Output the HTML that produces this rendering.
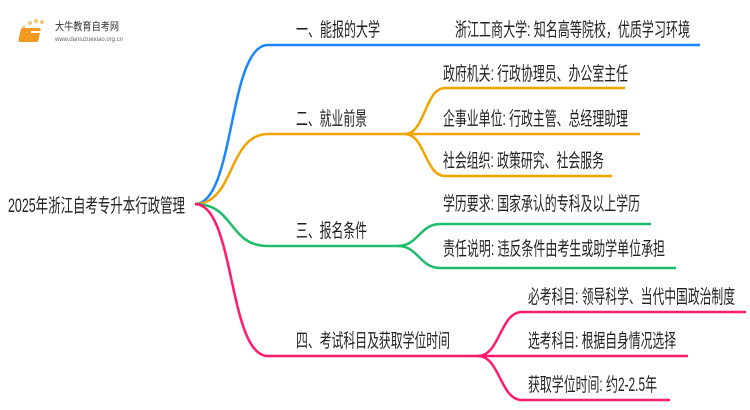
<!DOCTYPE html>
<html><head><meta charset="utf-8"><style>
html,body{margin:0;padding:0;background:#fff;width:750px;height:410px;overflow:hidden}
svg text{font-family:"Liberation Sans","Noto Sans CJK SC",sans-serif;fill:#222}
</style></head><body>
<svg width="750" height="410" viewBox="0 0 750 410" xmlns="http://www.w3.org/2000/svg">
<g>
<circle cx="30" cy="23" r="2" fill="#f7c56a"/><circle cx="36" cy="21" r="2" fill="#f7c56a"/><circle cx="42" cy="22" r="2" fill="#f7c56a"/><circle cx="24" cy="27" r="1.8" fill="#f7d48a"/><circle cx="22" cy="33" r="1.5" fill="#f7d48a"/>
<rect x="27" y="28" width="20" height="14" rx="2" fill="#f29a1f" transform="skewX(-12)"/>
<rect x="31" y="31" width="12" height="2" fill="#fff"/>
<text x="55" y="30" font-size="11" textLength="64" lengthAdjust="spacingAndGlyphs" style="fill:#333">大牛教育自考网</text>
<text x="55" y="41" font-size="6" textLength="68" lengthAdjust="spacingAndGlyphs" style="fill:#666">www.daniuzuexiao.org.cn</text>
</g>
<g fill="none" stroke-width="2.5">
<path d="M195 204 C235 204 228 45 268 45 L700 45" stroke="#1a86ff"/>
<path d="M195 204 C235 204 228 134 268 134 L405 134" stroke="#f2a300"/>
<path d="M405 134 C425 134 425 88 445 88 L625 88" stroke="#f2a300"/>
<path d="M405 134 L640 134" stroke="#f2a300"/>
<path d="M405 134 C425 134 425 176 445 176 L612 176" stroke="#f2a300"/>
<path d="M195 204 C235 204 228 246 268 246 L398 246" stroke="#1dbd6c"/>
<path d="M398 246 C418 246 420 224 440 224 L651 224" stroke="#1dbd6c"/>
<path d="M398 246 C418 246 420 268 440 268 L676 268" stroke="#1dbd6c"/>
<path d="M195 204 C235 204 228 356 268 356 L478 356" stroke="#ff1a6e"/>
<path d="M478 356 C500 356 500 312 522 312 L746 312" stroke="#ff1a6e"/>
<path d="M478 356 L688 356" stroke="#ff1a6e"/>
<path d="M478 356 C500 356 500 400 522 400 L670 400" stroke="#ff1a6e"/>
</g>
<g font-size="19">
<text x="8" y="212" textLength="177" lengthAdjust="spacingAndGlyphs">2025年浙江自考专升本行政管理</text>
<text x="296" y="36" textLength="84" lengthAdjust="spacingAndGlyphs">一、能报的大学</text>
<text x="455" y="36" textLength="235" lengthAdjust="spacingAndGlyphs">浙江工商大学: 知名高等院校，优质学习环境</text>
<text x="296" y="125" textLength="71" lengthAdjust="spacingAndGlyphs">二、就业前景</text>
<text x="443" y="80" textLength="185" lengthAdjust="spacingAndGlyphs">政府机关: 行政协理员、办公室主任</text>
<text x="443" y="125" textLength="185" lengthAdjust="spacingAndGlyphs">企事业单位: 行政主管、总经理助理</text>
<text x="443" y="167" textLength="161" lengthAdjust="spacingAndGlyphs">社会组织: 政策研究、社会服务</text>
<text x="296" y="237" textLength="71" lengthAdjust="spacingAndGlyphs">三、报名条件</text>
<text x="443" y="210" textLength="197" lengthAdjust="spacingAndGlyphs">学历要求: 国家承认的专科及以上学历</text>
<text x="443" y="255" textLength="222" lengthAdjust="spacingAndGlyphs">责任说明: 违反条件由考生或助学单位承担</text>
<text x="296" y="347" textLength="154" lengthAdjust="spacingAndGlyphs">四、考试科目及获取学位时间</text>
<text x="528" y="303" textLength="207" lengthAdjust="spacingAndGlyphs">必考科目: 领导科学、当代中国政治制度</text>
<text x="528" y="347" textLength="148" lengthAdjust="spacingAndGlyphs">选考科目: 根据自身情况选择</text>
<text x="528" y="391" textLength="129" lengthAdjust="spacingAndGlyphs">获取学位时间: 约2-2.5年</text>
</g>
</svg>
</body></html>
